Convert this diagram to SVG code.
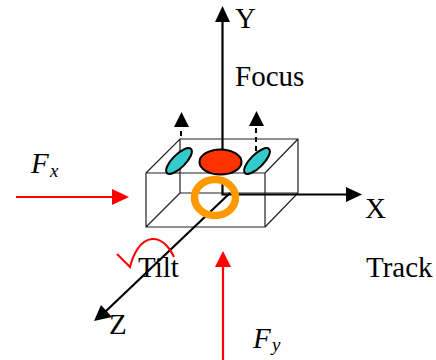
<svg xmlns="http://www.w3.org/2000/svg" width="436" height="360" viewBox="0 0 436 360">
<style>
text{font-family:"Liberation Serif","Times New Roman",serif;fill:#000}
.lbl{font-size:29px}
.f{font-size:29px;font-style:italic}
.sub{font-size:19px;font-style:italic}
.box{fill:none;stroke:#222;stroke-width:1.2}
.axis{fill:none;stroke:#000;stroke-width:2.2}
.force{fill:none;stroke:#f00;stroke-width:2.2}
.dash{fill:none;stroke:#000;stroke-width:2;stroke-dasharray:5 4}
.lens{fill:#33cccc;stroke:#000;stroke-width:2}
</style>
<g id="connectors">
<path class="box" d="M146 173H265V227H146ZM146 173L180 139H298V193L265 227M298 139L265 173M180 139V193H298M180 193L146 227"/>
<path class="axis" d="M222.500 150V18"/>
<polygon points="222.500,6 215,22 230,22" fill="#000"/>
<path class="axis" d="M222.500 183V194.500H346"/>
<polygon points="362,194.500 346,187 346,202" fill="#000"/>
<path class="axis" d="M230 193L105 312"/>
<polygon points="94,321 101,305 112,317" fill="#000"/>
<path class="dash" d="M181 136V126"/>
<polygon points="181.500,112 174,127 189,127" fill="#000"/>
<path class="dash" d="M256 151V125"/>
<polygon points="256.500,111 249,126 264,126" fill="#000"/>
<path class="force" d="M16 197H114"/>
<polygon points="129,197 112,189 112,205" fill="#f00"/>
<path class="force" d="M223 360V265"/>
<polygon points="223,251 215,267 231,267" fill="#f00"/>
<path d="M117 254L130 267C133 255 140 240 152 239C162 238 170 248 174 257" fill="none" stroke="#f00" stroke-width="2"/>
</g>
<g id="lens-left"><ellipse cx="179" cy="161" rx="17" ry="6.500" transform="rotate(-45 179 161)" class="lens"/></g>
<g id="lens-center"><ellipse cx="220.500" cy="162" rx="21" ry="12.500" fill="#ff3300" stroke="#000" stroke-width="2"/></g>
<g id="lens-right"><ellipse cx="257" cy="161" rx="17" ry="6.500" transform="rotate(-45 257 161)" class="lens"/></g>
<g id="ring"><ellipse cx="215" cy="197.500" rx="20.500" ry="18" fill="none" stroke="#ff9900" stroke-width="7.500"/></g>
<g id="label-y"><text class="lbl" x="235" y="28">Y</text></g>
<g id="label-focus"><text class="lbl" x="235" y="86">Focus</text></g>
<g id="label-x"><text class="lbl" x="365" y="218">X</text></g>
<g id="label-z"><text class="lbl" x="109" y="334">Z</text></g>
<g id="label-tilt"><text class="lbl" x="138" y="277">Tilt</text></g>
<g id="label-track"><text class="lbl" x="366" y="277">Track</text></g>
<g id="label-fx"><text class="f" x="31" y="173">F</text><text class="sub" x="50" y="177">x</text></g>
<g id="label-fy"><text class="f" x="253" y="348">F</text><text class="sub" x="272" y="351">y</text></g>
</svg>
